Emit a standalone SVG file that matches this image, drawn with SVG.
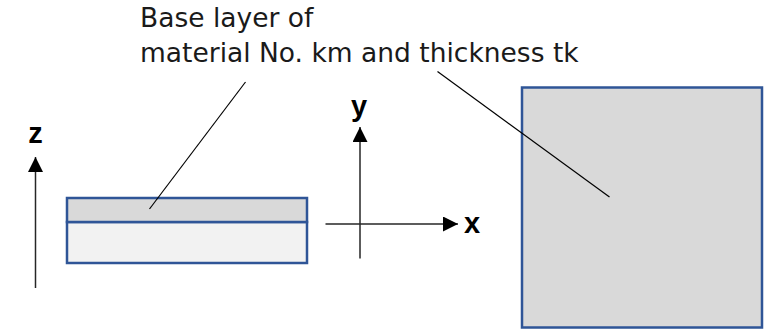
<svg xmlns="http://www.w3.org/2000/svg" width="769" height="331" viewBox="0 0 769 331">
<style>
.box{stroke:#2F5597;stroke-width:2.5}
.top{fill:#D9D9D9}
.bot{fill:#F2F2F2}
.axis{stroke:#262626;stroke-width:1.5;fill:none}
.lead{stroke:#000;stroke-width:1.2;fill:none}
.lbl{font-family:"DejaVu Sans",sans-serif;font-size:26.5px;fill:#1a1a1a}
.ax{font-family:"Liberation Sans",Arial,sans-serif;font-weight:bold;font-size:29px;fill:#000}
</style>
<defs>
<marker id="arr" markerUnits="userSpaceOnUse" markerWidth="16" markerHeight="16" refX="15" refY="7.5" orient="auto">
<path d="M0,0 L15,7.5 L0,15 Z" fill="#000"/>
</marker>
</defs>
<g id="label">
<text class="lbl" x="140" y="26.5">Base layer of</text>
<text class="lbl" x="140" y="62">material No. km and thickness tk</text>
</g>
<g id="side-view">
<rect class="box bot" x="67" y="222" width="240" height="41"/>
<rect class="box top" x="67" y="198" width="240" height="24"/>
</g>
<g id="top-view">
<rect class="box top" x="522" y="87.5" width="240" height="240"/>
</g>
<g id="axes">
<line class="axis" x1="35.5" y1="288" x2="35.5" y2="157" marker-end="url(#arr)"/>
<text class="ax" x="35.5" y="143" text-anchor="middle">z</text>
<line class="axis" x1="360" y1="258.5" x2="360" y2="127" marker-end="url(#arr)"/>
<text class="ax" x="359" y="116" text-anchor="middle">y</text>
<line class="axis" x1="325.5" y1="224" x2="458" y2="224" marker-end="url(#arr)"/>
<text class="ax" x="464" y="233">x</text>
</g>
<g id="connectors">
<line class="lead" x1="245.5" y1="82" x2="149.5" y2="209"/>
<line class="lead" x1="437.5" y1="71.5" x2="609.5" y2="197"/>
</g>
</svg>
